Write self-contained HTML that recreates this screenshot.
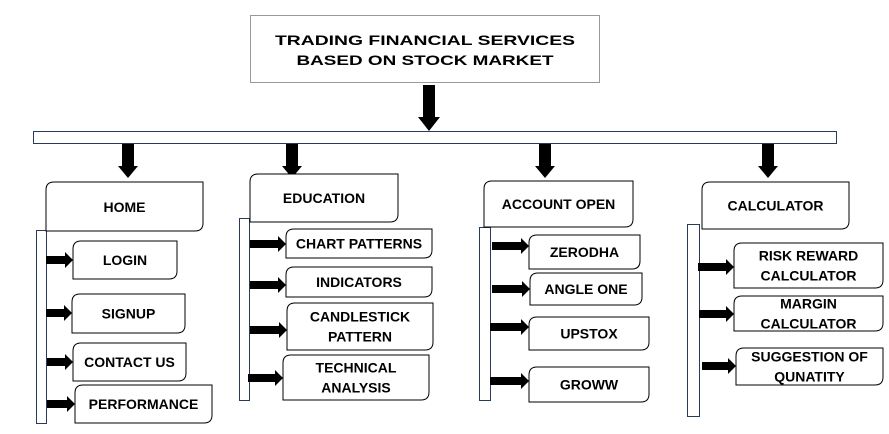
<!DOCTYPE html>
<html><head><meta charset="utf-8"><style>
body{margin:0;background:#fff}
svg{display:block}
text{font-family:"Liberation Sans",Arial,sans-serif;font-weight:bold;font-size:14px;fill:#000;text-anchor:middle}
</style></head><body>
<svg width="889" height="434" viewBox="0 0 889 434">
<g id="root"></g>
</svg>
<script>
const root=document.getElementById('root');
const NS='http://www.w3.org/2000/svg';
function el(tag,attrs,name,parent){const e=document.createElementNS(NS,tag);for(const k in attrs)e.setAttribute(k,attrs[k]);


(parent||root).appendChild(e);return e;}
function rbox(x1,y1,x2,y2,lines,name,fs){
 const g=el('g',{},name);
 const r=8;
 el('path',{d:`M${x1},${y2} L${x1},${y1+r} Q${x1},${y1} ${x1+r},${y1} L${x2},${y1} L${x2},${y2-r} Q${x2},${y2} ${x2-r},${y2} Z`,fill:'#fff',stroke:'#000','stroke-width':1},name+'-box',g);
 const cy=(y1+y2)/2, lh=20, fsz=fs||14;
 lines.forEach((t,i)=>{const tx=el('text',{x:(x1+x2)/2,y:cy+(i-(lines.length-1)/2)*lh+fsz*0.36,'font-size':fsz},name+'-label',g);tx.textContent=t;});
}
function bar(x1,y1,x2,y2,name){el('rect',{x:x1+0.5,y:y1+0.5,width:x2-x1,height:y2-y1,fill:'#fff',stroke:'#2a3a5a','stroke-width':1},name);}
function rarrow(x1,x2,y,name){el('path',{d:`M${x1},${y-4} L${x2-8},${y-4} L${x2-8},${y-8} L${x2},${y} L${x2-8},${y+8} L${x2-8},${y+4} L${x1},${y+4} Z`,fill:'#000'},name);}
function darrow(x,y1,y2,name,w,hw,hh){w=w||6;hw=hw||11;hh=hh||12;el('path',{d:`M${x-w},${y1} L${x+w},${y1} L${x+w},${y2-hh} L${x+hw},${y2-hh} L${x},${y2} L${x-hw},${y2-hh} L${x-w},${y2-hh} Z`,fill:'#000'},name);}

// title
el('rect',{x:250.5,y:15.5,width:349,height:67,fill:'#fff',stroke:'#999','stroke-width':1},'title-box');
let t=el('text',{x:425,y:45,'font-size':17,textLength:300,lengthAdjust:'spacingAndGlyphs'},'title-line-1');t.textContent='TRADING FINANCIAL SERVICES';
t=el('text',{x:425,y:65,'font-size':17,textLength:257,lengthAdjust:'spacingAndGlyphs'},'title-line-2');t.textContent='BASED ON STOCK MARKET';
darrow(429,85,131,'main-down-arrow',6,11,14);
el('rect',{x:33.5,y:131.5,width:803,height:12,fill:'#fff',stroke:'#2a3a5a','stroke-width':1},'horizontal-connector-bar');
[128,292,545,768].forEach((x,i)=>darrow(x,144,178,'branch-arrow-'+i,6,10,12));

// HOME
bar(36,230,46,423,'home-bar');
rbox(46,182,203,231,['HOME'],'home-node',15);
rarrow(46,73,260,'arrow-login');rbox(73,241,177,279,['LOGIN'],'login-node');
rarrow(46,72,313,'arrow-signup');rbox(72,294,185,333,['SIGNUP'],'signup-node');
rarrow(47,73,362,'arrow-contact');rbox(73,343,186,381,['CONTACT US'],'contact-us-node');
rarrow(47,75,404,'arrow-performance');rbox(75,385,212,423,['PERFORMANCE'],'performance-node');

// EDUCATION
bar(239,218,249,400,'education-bar');
rbox(250,174,398,222,['EDUCATION'],'education-node');
rarrow(250,286,244,'arrow-chart');rbox(286,229,432,258,['CHART PATTERNS'],'chart-patterns-node');
rarrow(250,286,285,'arrow-indicators');rbox(286,267,432,297,['INDICATORS'],'indicators-node');
rarrow(250,287,330,'arrow-candlestick');rbox(287,303,433,350,['CANDLESTICK','PATTERN'],'candlestick-node');
rarrow(248,283,378,'arrow-technical');rbox(283,355,429,400,['TECHNICAL','ANALYSIS'],'technical-analysis-node');

// ACCOUNT OPEN
bar(479,227,490,400,'account-bar');
rbox(484,181,633,227,['ACCOUNT OPEN'],'account-open-node');
rarrow(492,529,246,'arrow-zerodha');rbox(529,235,640,269,['ZERODHA'],'zerodha-node');
rarrow(492,530,289,'arrow-angle');rbox(530,273,642,305,['ANGLE ONE'],'angle-one-node');
rarrow(490,529,327,'arrow-upstox');rbox(529,317,649,350,['UPSTOX'],'upstox-node');
rarrow(490,529,381,'arrow-groww');rbox(529,367,649,402,['GROWW'],'groww-node');

// CALCULATOR
bar(687,224,699,416,'calculator-bar');
rbox(702,182,849,229,['CALCULATOR'],'calculator-node');
rarrow(698,734,267,'arrow-risk');rbox(734,243,883,288,['RISK REWARD','CALCULATOR'],'risk-reward-node');
rarrow(699,734,314,'arrow-margin');rbox(734,296,883,331,['MARGIN','CALCULATOR'],'margin-node',14);
rarrow(702,736,366,'arrow-suggestion');rbox(736,348,883,385,['SUGGESTION OF','QUNATITY'],'suggestion-node');
</script>
</body></html>
